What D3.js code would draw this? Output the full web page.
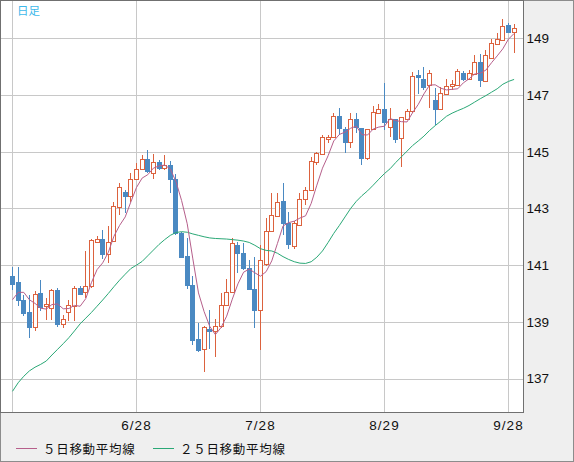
<!DOCTYPE html>
<html>
<head>
<meta charset="utf-8">
<script src="https://cdn.jsdelivr.net/npm/d3@7"></script>
<style>
  html, body { margin: 0; padding: 0; background: #efefef; }
  svg { display: block; }
</style>
</head>
<body>
<script>
// daily candles, 2023-05-29 .. 2023-09-29
const dates = [
  '5/29', '5/30', '5/31', '6/1', '6/2', '6/5', '6/6', '6/7', '6/8', '6/9',
  '6/12', '6/13', '6/14', '6/15', '6/16', '6/19', '6/20', '6/21', '6/22', '6/23',
  '6/26', '6/27', '6/28', '6/29', '6/30', '7/3', '7/4', '7/5', '7/6', '7/7',
  '7/10', '7/11', '7/12', '7/13', '7/14', '7/17', '7/18', '7/19', '7/20', '7/21',
  '7/24', '7/25', '7/26', '7/27', '7/28', '7/31', '8/1', '8/2', '8/3', '8/4',
  '8/7', '8/8', '8/9', '8/10', '8/11', '8/14', '8/15', '8/16', '8/17', '8/18',
  '8/21', '8/22', '8/23', '8/24', '8/25', '8/28', '8/29', '8/30', '8/31', '9/1',
  '9/4', '9/5', '9/6', '9/7', '9/8', '9/11', '9/12', '9/13', '9/14', '9/15',
  '9/18', '9/19', '9/20', '9/21', '9/22', '9/25', '9/26', '9/27', '9/28', '9/29'
];

const open = [
  140.63, 140.39, 139.78, 139.33, 138.82, 140.02, 139.55, 139.48, 140.13, 138.93,
  139.35, 139.57, 140.19, 140.04, 140.27, 141.81, 141.93, 141.39, 141.86, 143.06,
  143.58, 143.45, 144.03, 144.38, 144.74, 144.24, 144.63, 144.42, 144.53, 144.03,
  142.14, 141.33, 140.31, 138.41, 138.05, 138.75, 138.67, 138.84, 139.58, 140.05,
  141.72, 141.42, 140.90, 140.16, 139.40, 141.05, 142.22, 142.74, 143.26, 142.50,
  141.66, 142.42, 143.32, 143.65, 144.65, 144.92, 145.49, 145.53, 146.26, 145.79,
  145.35, 146.17, 145.82, 144.77, 145.79, 146.37, 146.49, 145.86, 146.14, 145.47,
  146.17, 146.43, 147.70, 147.58, 147.35, 146.84, 146.49, 147.05, 147.31, 147.35,
  147.78, 147.55, 147.73, 148.17, 147.50, 148.32, 148.81, 148.95, 149.46, 149.22
];

const high = [
  140.95, 140.93, 139.96, 139.96, 140.10, 140.48, 139.84, 140.16, 140.19, 139.25,
  139.78, 140.25, 140.27, 141.51, 141.92, 142.01, 142.24, 142.38, 143.24, 143.91,
  143.65, 144.24, 144.59, 144.88, 145.06, 144.92, 144.71, 144.88, 144.67, 144.21,
  142.18, 141.95, 140.60, 138.96, 138.84, 139.43, 139.10, 140.02, 140.51, 141.95,
  141.83, 141.78, 141.19, 141.30, 141.72, 142.66, 143.56, 143.54, 143.91, 142.89,
  142.54, 143.54, 143.77, 144.82, 145.00, 145.59, 145.59, 146.35, 146.53, 145.86,
  146.37, 146.37, 145.85, 145.80, 146.61, 146.68, 147.41, 146.53, 146.17, 146.24,
  146.49, 147.81, 147.87, 147.99, 147.87, 147.23, 147.27, 147.58, 147.52, 147.93,
  147.84, 147.87, 148.40, 148.46, 148.58, 148.99, 149.17, 149.69, 149.54, 149.49
];

const low = [
  140.11, 139.57, 139.22, 138.43, 138.67, 139.37, 139.08, 139.05, 138.82, 138.79,
  139.02, 139.02, 139.96, 139.84, 140.19, 141.78, 141.21, 141.07, 141.80, 142.77,
  142.83, 143.24, 144.00, 144.36, 144.24, 144.03, 144.36, 144.36, 143.54, 142.07,
  141.25, 140.16, 138.20, 137.93, 137.24, 138.03, 137.75, 138.79, 139.55, 140.02,
  140.72, 140.84, 140.14, 138.79, 138.00, 140.98, 142.18, 142.70, 142.07, 141.57,
  141.58, 142.39, 143.12, 143.63, 144.53, 144.88, 145.30, 145.51, 145.59, 144.94,
  145.12, 145.65, 144.53, 144.71, 145.76, 146.35, 145.76, 145.53, 145.32, 144.45,
  146.15, 146.37, 147.03, 147.19, 146.53, 145.94, 146.47, 146.99, 147.17, 147.31,
  147.50, 147.55, 147.73, 147.27, 147.48, 148.30, 148.75, 148.93, 149.17, 148.48
];

const close = [
  140.35, 139.77, 139.31, 138.81, 139.99, 139.52, 139.63, 140.12, 138.91, 139.10,
  139.58, 140.19, 139.99, 140.25, 141.87, 141.92, 141.39, 141.83, 143.09, 143.75,
  143.45, 144.03, 144.39, 144.74, 144.32, 144.63, 144.42, 144.53, 144.03, 142.14,
  141.27, 140.31, 138.37, 138.02, 138.82, 138.70, 138.84, 139.61, 140.05, 141.78,
  141.42, 140.90, 140.16, 139.40, 141.19, 142.22, 142.77, 143.24, 142.50, 141.75,
  142.50, 143.32, 143.65, 144.67, 144.94, 145.51, 145.53, 146.26, 145.82, 145.35,
  146.17, 145.88, 144.77, 145.79, 146.41, 146.49, 146.04, 146.14, 145.44, 146.21,
  146.43, 147.66, 147.62, 147.27, 147.76, 146.49, 147.08, 147.31, 147.38, 147.84,
  147.55, 147.76, 148.17, 147.52, 148.40, 148.83, 148.99, 149.42, 149.22, 149.38
];

const ma5 = [
  139.78, 140.04, 140.04, 139.78, 139.65, 139.48, 139.45, 139.61, 139.63, 139.46,
  139.47, 139.58, 139.55, 139.82, 140.38, 140.84, 141.08, 141.45, 142.02, 142.40,
  142.70, 143.23, 143.74, 144.07, 144.19, 144.42, 144.50, 144.53, 144.39, 143.95,
  143.28, 142.46, 141.22, 140.02, 139.36, 138.84, 138.55, 138.80, 139.20, 139.80,
  140.34, 140.75, 140.86, 140.73, 140.61, 140.77, 141.15, 141.76, 142.38, 142.50,
  142.55, 142.66, 142.74, 143.18, 143.82, 144.42, 144.86, 145.38, 145.61, 145.69,
  145.83, 145.90, 145.60, 145.59, 145.80, 145.87, 145.90, 146.17, 146.10, 146.06,
  146.05, 146.38, 146.67, 147.04, 147.35, 147.36, 147.24, 147.18, 147.20, 147.22,
  147.43, 147.57, 147.74, 147.77, 147.88, 148.14, 148.38, 148.63, 148.97, 149.17
];

const ma25 = [
  136.55, 136.85, 137.08, 137.27, 137.40, 137.50, 137.62, 137.83, 138.03, 138.23,
  138.44, 138.68, 138.93, 139.13, 139.33, 139.55, 139.77, 140.00, 140.24, 140.47,
  140.68, 140.88, 141.00, 141.13, 141.33, 141.53, 141.73, 141.90, 142.05, 142.15,
  142.18, 142.16, 142.10, 142.05, 142.00, 141.96, 141.94, 141.93, 141.92, 141.90,
  141.88, 141.85, 141.80, 141.70, 141.58, 141.52, 141.50, 141.42, 141.30, 141.20,
  141.12, 141.07, 141.06, 141.12, 141.28, 141.50, 141.80, 142.12, 142.40, 142.70,
  143.00, 143.25, 143.45, 143.62, 143.82, 144.03, 144.23, 144.40, 144.62, 144.82,
  145.02, 145.22, 145.38, 145.55, 145.75, 145.92, 146.08, 146.25, 146.36, 146.45,
  146.53, 146.63, 146.75, 146.87, 146.98, 147.10, 147.22, 147.38, 147.48, 147.55
];

const gridDates = ['5/29', '6/28', '7/28', '8/29', '9/28'];
const labelDates = ['6/28', '7/28', '8/29', '9/28'];
const yTicks = [137, 139, 141, 143, 145, 147, 149];
const legendNames = ['５日移動平均線', '２５日移動平均線'];

const W = 574, H = 462;
const plotR = 523.5, plotB = 412.5;
const UP = '#dc623e', DOWN = '#4a89c2';
const MA5C = '#b65f8b', MA25C = '#2aa876';

const svg = d3.select('body').append('svg')
  .attr('width', W)
  .attr('height', H);

svg.append('rect')
  .attr('x', 0.5).attr('y', 0.5)
  .attr('width', W - 1).attr('height', H - 1)
  .attr('fill', '#efefef')
  .attr('stroke', '#8c8c8c');

svg.append('rect')
  .attr('x', 0.5).attr('y', 0.5)
  .attr('width', plotR - 0.5).attr('height', plotB - 0.5)
  .attr('fill', '#fff');

const x = d3.scalePoint()
  .domain(dates)
  .range([12.5, 12.5 + 5.636 * (dates.length - 1)]);

const y = d3.scaleLinear()
  .domain([135.82, 150.316])
  .range([412, 1]);

const px = d => Math.round(x(d) - 0.5) + 0.5;

// grid
const grid = svg.append('g').attr('shape-rendering', 'crispEdges');
grid.selectAll('.hg')
  .data(yTicks)
  .enter()
  .append('line')
  .attr('x1', 1).attr('x2', plotR)
  .attr('y1', d => Math.round(y(d)) + 0.5)
  .attr('y2', d => Math.round(y(d)) + 0.5)
  .attr('stroke', '#c8c8c8');
grid.selectAll('.vg')
  .data(gridDates)
  .enter()
  .append('line')
  .attr('x1', px).attr('x2', px)
  .attr('y1', 1).attr('y2', plotB)
  .attr('stroke', '#c8c8c8');

// candles
const candles = dates.map((d, i) => ({
  d, o: open[i], h: high[i], l: low[i], c: close[i]
}));

const cg = svg.append('g').attr('shape-rendering', 'crispEdges');

candles.forEach(k => {
  const cx = px(k.d);
  const yh = Math.round(y(k.h)), yl = Math.round(y(k.l));
  if (k.c >= k.o) {
    const top = Math.round(y(k.c)), bot = Math.max(Math.round(y(k.o)), top + 2);
    if (yh < top) cg.append('line').attr('x1', cx).attr('x2', cx).attr('y1', yh).attr('y2', top).attr('stroke', UP);
    if (yl > bot) cg.append('line').attr('x1', cx).attr('x2', cx).attr('y1', bot).attr('y2', yl).attr('stroke', UP);
    cg.append('rect')
      .attr('x', cx - 2).attr('y', top + 0.5)
      .attr('width', 4).attr('height', bot - top)
      .attr('fill', '#fff')
      .attr('stroke', UP);
  } else {
    const top = Math.round(y(k.o)), bot = Math.max(Math.round(y(k.c)), top + 2);
    cg.append('line').attr('x1', cx).attr('x2', cx).attr('y1', yh).attr('y2', yl).attr('stroke', DOWN);
    cg.append('rect')
      .attr('x', cx - 2.5).attr('y', top)
      .attr('width', 5).attr('height', bot - top + 1)
      .attr('fill', DOWN);
  }
});

// moving averages
const line = d3.line()
  .x((d, i) => x(dates[i]))
  .y(d => y(d));

svg.append('path')
  .datum(ma25)
  .attr('d', line)
  .attr('fill', 'none')
  .attr('stroke', MA25C)
  .attr('stroke-width', 1);

svg.append('path')
  .datum(ma5)
  .attr('d', line)
  .attr('fill', 'none')
  .attr('stroke', MA5C)
  .attr('stroke-width', 1);

// plot frame
svg.append('rect')
  .attr('x', 0.5).attr('y', 0.5)
  .attr('width', plotR - 0.5).attr('height', plotB - 0.5)
  .attr('fill', 'none')
  .attr('stroke', '#707070');

// axes
const yAxis = svg.append('g')
  .attr('transform', `translate(${plotR},0)`)
  .call(d3.axisRight(y).tickValues(yTicks).tickSize(0).tickPadding(3).tickFormat(d3.format('d')));
yAxis.select('.domain').remove();
yAxis.selectAll('text')
  .attr('fill', '#111')
  .style('font-family', '"Liberation Sans", Arial, sans-serif')
  .style('font-size', '13.5px');

const xAxis = svg.append('g')
  .attr('transform', `translate(0,${plotB})`)
  .call(d3.axisBottom(x).tickValues(labelDates).tickSize(0));
xAxis.select('.domain').remove();
xAxis.selectAll('.tick')
  .attr('transform', d => `translate(${px(d)},0)`);
xAxis.selectAll('text')
  .attr('y', 13).attr('dy', '0.35em')
  .attr('fill', '#111')
  .style('font-family', '"Liberation Sans", Arial, sans-serif')
  .style('font-size', '13.5px')
  .style('letter-spacing', '1.1px');

// corner label
svg.append('text')
  .attr('x', 17).attr('y', 10.5)
  .attr('dy', '0.35em')
  .attr('fill', '#3db8ea')
  .style('font-family', '"Noto Sans CJK JP", sans-serif')
  .style('font-size', '11.5px')
  .text('日足');

// legend
const legend = svg.append('g').attr('transform', 'translate(0,448.5)');
const legendItems = [
  { name: legendNames[0], color: MA5C, x0: 16, tx: 43 },
  { name: legendNames[1], color: MA25C, x0: 153, tx: 180 }
];
legendItems.forEach(it => {
  legend.append('line')
    .attr('x1', it.x0).attr('x2', it.x0 + 21)
    .attr('y1', 0).attr('y2', 0)
    .attr('stroke', it.color)
    .attr('shape-rendering', 'crispEdges');
  legend.append('text')
    .attr('x', it.tx).attr('y', 0.5)
    .attr('dy', '0.36em')
    .attr('fill', '#111')
    .style('font-family', '"Noto Sans CJK JP", sans-serif')
    .style('font-size', '12.5px')
    .style('letter-spacing', '0.7px')
    .text(it.name);
});
</script>
</body>
</html>
